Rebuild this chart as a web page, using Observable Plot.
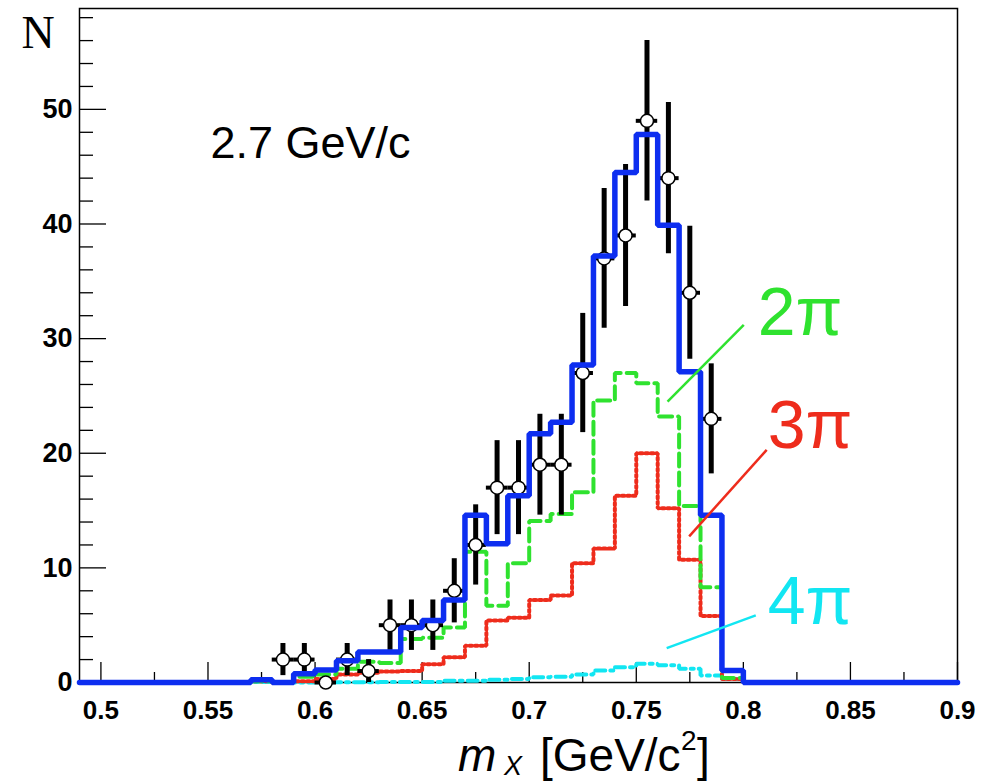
<!DOCTYPE html>
<html><head><meta charset="utf-8">
<script src="https://cdn.jsdelivr.net/npm/d3@7"></script>
<script src="https://cdn.jsdelivr.net/npm/@observablehq/plot@0.6"></script>
<style>body{margin:0;background:#fff;} svg{display:block}</style>
</head><body><div id="chart"></div>
<script>
// Histogram bins (lower edges, width 0.01 GeV/c^2)
const binLo = [0.57,0.58,0.59,0.60,0.61,0.62,0.63,0.64,0.65,0.66,0.67,0.68,0.69,0.70,0.71,0.72,0.73,0.74,0.75,0.76,0.77,0.78,0.79];
const binWidth = 0.01;
const total   = [0.25,0,0.76,1.1,1.9,2.65,2.65,4.8,5.4,7.2,14.6,12.1,16.3,21.7,22.7,27.7,37.2,44.5,47.8,39.9,27.1,14.6,1.05];
const twoPi   = [0.1,0,0.5,0.7,1.2,1.8,1.7,3.8,3.9,4.8,11.4,6.7,10.4,14.1,14.7,16.6,24.6,27.0,26.1,23.2,15.4,8.3,0.4];
const threePi = [0.1,0,0.1,0.3,0.7,0.85,0.95,1.0,1.6,2.2,3.2,5.4,5.65,7.2,7.6,10.4,11.7,16.3,20.0,15.2,10.7,5.8,0.3];
const fourPi  = [0.05,0,0,0.02,0.03,0.03,0.04,0.05,0.05,0.15,0.15,0.25,0.3,0.45,0.5,0.7,1.05,1.34,1.63,1.5,1.2,0.6,0.3];

// Data points
const dataX   = [0.585,0.595,0.605,0.615,0.625,0.635,0.645,0.655,0.665,0.675,0.685,0.695,0.705,0.715,0.725,0.735,0.745,0.755,0.765,0.775,0.785];
const dataN   = [2,2,0,2,1,5,5,5,8,12,17,17,19,19,27,37,39,49,44,34,23];
const dataErr = [1.4,1.4,0,1.4,1,2.2,2.2,2.2,2.8,3.5,4.1,4.1,4.4,4.4,5.2,6.1,6.2,7,6.6,5.8,4.8];
const xErr = 0.005;

// Axes
const xDomain = [0.49, 0.9];
const yDomain = [0, 58.8];
const xMajor = [0.5,0.55,0.6,0.65,0.7,0.75,0.8,0.85,0.9];
const xTickLabels = ["0.5","0.55","0.6","0.65","0.7","0.75","0.8","0.85","0.9"];
const xMinor = [0.525,0.575,0.625,0.675,0.725,0.775,0.825,0.875];
const yMajor = [0,10,20,30,40,50];
const yTickLabels = ["0","10","20","30","40","50"];
const yMinor = [2,4,6,8,12,14,16,18,22,24,26,28,32,34,36,38,42,44,46,48,52,54,56,58];

const labels = ["2π","3π","4π"];
const title = "2.7 GeV/c";

function steps(vals) {
  const pts = [{x: xDomain[0], y: 0}];
  binLo.forEach((b, i) => pts.push({x: b, y: vals[i]}));
  pts.push({x: binLo[binLo.length - 1] + binWidth, y: 0});
  pts.push({x: xDomain[1], y: 0});
  return pts;
}
const points = dataX.map((x, i) => ({x, n: dataN[i], e: dataErr[i]}));

const font = "Liberation Sans, Helvetica, Arial, sans-serif";
const cGreen = "#2fe22f", cRed = "#ee2c1c", cCyan = "#12e6f2", cBlue = "#0d2ef0";

const ann = [
  {t: labels[0], c: cGreen, tx: 0.8067, ty: 30.3, x1: 0.8002, y1: 31.2, x2: 0.7646, y2: 24.5},
  {t: labels[1], c: cRed,   tx: 0.8114, ty: 20.5, x1: 0.8109, y1: 20.3, x2: 0.7747, y2: 12.75},
  {t: labels[2], c: cCyan,  tx: 0.8114, ty: 5.1,  x1: 0.8058, y1: 5.85, x2: 0.7642, y2: 3.0}
];

const chart = Plot.plot({
  width: 983, height: 781,
  marginLeft: 79, marginRight: 26, marginTop: 8, marginBottom: 99,
  x: {domain: xDomain, axis: null},
  y: {domain: yDomain, axis: null},
  style: {background: "white", fontFamily: font, color: "black"},
  marks: [
    Plot.frame({stroke: "black", strokeWidth: 1.5}),
    Plot.axisX(xMajor, {anchor: "bottom", tickSize: -20, fill: "none", strokeWidth: 1.3, label: null}),
    Plot.axisX(xMinor, {anchor: "bottom", tickSize: -10, fill: "none", strokeWidth: 1.3, label: null}),
    Plot.axisX(xMajor, {anchor: "bottom", tickSize: 0, tickPadding: 18, tickFormat: (d) => xTickLabels[xMajor.indexOf(d)], fontSize: 26, fontWeight: "bold", fontFamily: font, label: null}),
    Plot.axisY(yMajor, {anchor: "left", tickSize: -27, fill: "none", strokeWidth: 1.3, label: null}),
    Plot.axisY(yMinor, {anchor: "left", tickSize: -14, fill: "none", strokeWidth: 1.3, label: null}),
    Plot.axisY(yMajor, {anchor: "left", tickSize: 0, tickPadding: 7, tickFormat: d => yTickLabels[yMajor.indexOf(d)], fontSize: 27, fontWeight: "bold", fontFamily: font, label: null}),
    Plot.line(steps(fourPi), {x: "x", y: "y", curve: "step-after", stroke: cCyan, strokeWidth: 4, strokeDasharray: "10,5,3,5", strokeLinejoin: "miter"}),
    Plot.line(steps(threePi), {x: "x", y: "y", curve: "step-after", stroke: cRed, strokeWidth: 4, strokeDasharray: "2.5,3", strokeLinejoin: "miter"}),
    Plot.line(steps(twoPi), {x: "x", y: "y", curve: "step-after", stroke: cGreen, strokeWidth: 4, strokeDasharray: "13,6", strokeLinejoin: "miter"}),
    Plot.ruleX(points, {x: "x", y1: d => d.n - d.e, y2: d => d.n + d.e, stroke: "black", strokeWidth: 5}),
    Plot.ruleY(points, {y: "n", x1: d => d.x - xErr, x2: d => d.x + xErr, stroke: "black", strokeWidth: 4}),
    Plot.dot(points, {x: "x", y: "n", r: 6.5, fill: "white", stroke: "black", strokeWidth: 1.5}),
    Plot.line(steps(total), {x: "x", y: "y", curve: "step-after", stroke: cBlue, strokeWidth: 5.5, strokeLinejoin: "miter"}),
    Plot.link(ann, {x1: "x1", y1: "y1", x2: "x2", y2: "y2", stroke: "c", strokeWidth: 2.5}),
    Plot.text(ann, {x: "tx", y: "ty", text: "t", fill: "c", fontSize: 68, fontFamily: font, textAnchor: "start", lineAnchor: "bottom"}),
    Plot.text([title], {text: d => d, frameAnchor: "top-left", dx: 131, dy: 149, fontSize: 45, fontFamily: font, textAnchor: "start", lineAnchor: "bottom", fill: "black"}),
    Plot.text(["N"], {text: d => d, frameAnchor: "top-left", dx: -58, dy: 39, fontSize: 46, fontFamily: "Liberation Serif, Times New Roman, serif", textAnchor: "start", lineAnchor: "bottom", fill: "black"})
  ]
});
document.getElementById("chart").appendChild(chart);

// x-axis title with sub/superscripts
const svg = d3.select(chart);
const t = svg.append("text").attr("y", 771).attr("text-anchor", "start").attr("font-family", font).attr("font-size", 46).attr("fill", "black");
t.append("tspan").attr("x", 458).attr("font-style", "italic").text("m");
t.append("tspan").attr("x", 504).attr("dy", 4).attr("font-style", "italic").attr("font-size", 27).text("X");
t.append("tspan").attr("x", 540).attr("dy", -4).text("[GeV/c");
t.append("tspan").attr("x", 681).attr("dy", -21).attr("font-size", 28).text("2");
t.append("tspan").attr("x", 697).attr("dy", 21).text("]");
</script>
</body></html>
